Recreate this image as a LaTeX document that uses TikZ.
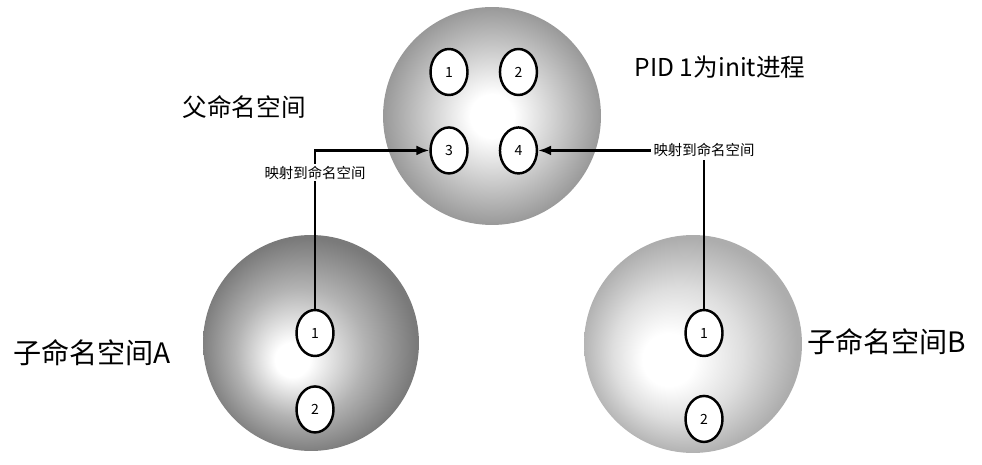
\documentclass[tikz,border=0pt]{standalone}
\usepackage{fontspec}
\setmainfont{Noto Sans CJK SC}
\usetikzlibrary{shapes.geometric,arrows.meta,positioning}

\pgfdeclareradialshading{parentball}{\pgfpoint{0bp}{0bp}}{color(0bp)=(white); color(5bp)=(white); color(15bp)=(black!20); color(25bp)=(black!40); color(30bp)=(black!40)}
\pgfdeclareradialshading{childA}{\pgfpoint{-5bp}{-4.5bp}}{color(0bp)=(white); color(4bp)=(white); color(15bp)=(black!30); color(25bp)=(black!52); color(30bp)=(black!52)}
\pgfdeclareradialshading{childB}{\pgfpoint{-7bp}{-4.5bp}}{color(0bp)=(white); color(6bp)=(white); color(15bp)=(black!13); color(25bp)=(black!32); color(30bp)=(black!32)}

\begin{document}
\begin{tikzpicture}[x=0.02cm, y=-0.02cm, >={Latex[length=2.6mm,width=2mm]}, line width=1.3pt, node distance=0.6cm]
    \tikzstyle{ball}=[circle, draw=none, minimum size=4.36cm, inner sep=0]
    \tikzstyle{pid}=[ellipse, draw=black, fill=white, line width=1.4pt, minimum width=0.74cm, minimum height=0.92cm, inner sep=0, font=\fontsize{8}{9}\selectfont]
    \tikzstyle{tag}=[fill=white, inner sep=1pt, font=\fontsize{8.2}{9}\selectfont]
    \tikzstyle{title}=[inner sep=0, font=\fontsize{14}{16}\selectfont]

    \useasboundingbox (0,0) rectangle (982,465);

    % namespaces
    \node[ball, shading=parentball] (P) at (492,116) {};
    \node[ball, shading=childA, minimum size=4.32cm] (A) at (311,343) {};
    \node[ball, shading=childB] (B) at (693,344) {};

    % processes
    \node[pid] (P1) at (449,72) {1};
    \node[pid] (P2)[right=of P1] {2};
    \node[pid] (P3)[below=of P1] {3};
    \node[pid] (P4)[right=of P3] {4};

    \node[pid] (A1) at (315,333) {1};
    \node[pid] (A2)[below=0.56cm of A1] {2};
    \node[pid] (B1) at (704,333) {1};
    \node[pid] (B2)[below=0.75cm of B1] {2};

    % labels
    \node[title] (lblP)[left=1.5cm of P, yshift=0.18cm] {父命名空间};
    \node[title] (lblPID) at (720,67) {PID 1为init进程};
    \node[title, font=\fontsize{16}{18}\selectfont] (lblA)[left=0.6cm of A, yshift=-0.2cm] {子命名空间A};
    \node[title, font=\fontsize{16}{18}\selectfont] (lblB)[right=0.06cm of B, yshift=0.04cm] {子命名空间B};

    % mappings
    \draw[->] (A1) |- node[tag, pos=0.43] (mapA) {映射到命名空间} (P3);
    \node[tag] (mapB) at (B1 |- P4) {映射到命名空间};
    \draw (B1) -- (mapB);
    \draw[->] (mapB) -- (P4);
\end{tikzpicture}
\end{document}
